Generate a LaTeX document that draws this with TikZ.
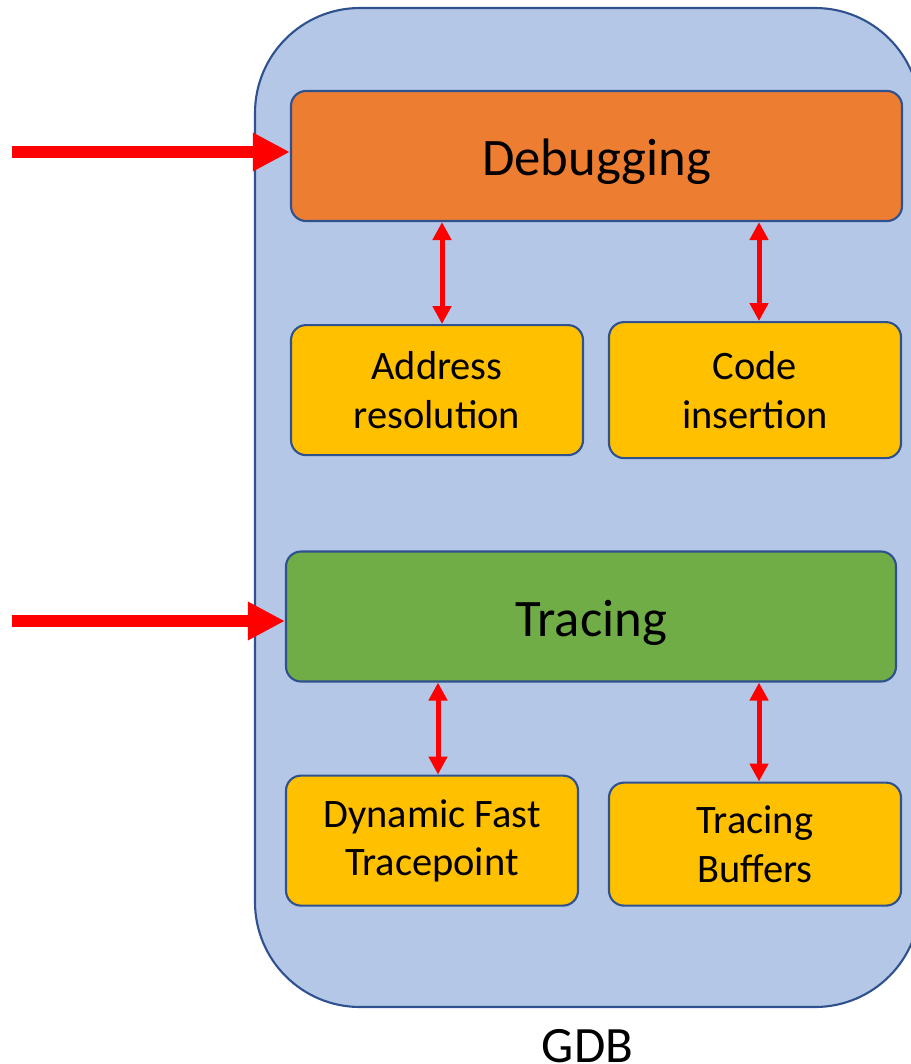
\documentclass[tikz,border=0pt]{standalone}
\usepackage{fontspec}
\setmainfont{Carlito}
\usepackage{tikz}
\usetikzlibrary{arrows.meta,positioning}
\definecolor{gdbblue}{HTML}{B4C7E7}
\definecolor{edgeblue}{HTML}{2F528F}
\definecolor{debugorange}{HTML}{ED7D31}
\definecolor{partyellow}{HTML}{FFC000}
\definecolor{tracegreen}{HTML}{70AD47}
\definecolor{arrowred}{HTML}{FF0000}

\begin{document}
\begin{tikzpicture}[outer/.style = {rectangle, draw = edgeblue, line width = 1.2pt, fill = gdbblue, rounded corners = 2.1cm, inner sep = 0},
						block/.style = {rectangle, draw = edgeblue, line width = 1.2pt, rounded corners = 0.3cm, inner sep = 0, minimum height = 2.6cm, text height = 0.9cm, text depth = 0.1cm, font = \fontsize{30}{36}\selectfont},
						part/.style = {rectangle, draw = edgeblue, line width = 1.2pt, fill = partyellow, rounded corners = 0.3cm, inner sep = 0, minimum width = 5.84cm, align = center, font = \fontsize{23}{27.6}\selectfont},
						inarrow/.style = {-{Triangle[length = 0.74cm, width = 0.72cm]}, line width = 0.24cm, color = arrowred},
						linkarrow/.style = {{Triangle[length = 0.36cm, width = 0.36cm]}-{Triangle[length = 0.36cm, width = 0.36cm]}, line width = 0.1cm, color = arrowred}]
		\useasboundingbox (0,0) rectangle (18.22,-21.28);
		% GDB container
		\node (gdb) at (11.75,-10.15) [outer, minimum width = 13.3cm, minimum height = 19.98cm] {};
		\node (gdblabel) [below = 0.42cm of gdb, inner sep = 0, font = \fontsize{29}{34}\selectfont] {GDB};
		% Start of Debugging
		\node (debug) at (11.93,-3.12) [block, fill = debugorange, minimum width = 12.22cm] {Debugging};
		\node (addr) [part, minimum height = 2.6cm, below right = 2.04cm and 0cm of debug.south west] {Address\\resolution};
		\node (code) [part, minimum height = 2.72cm, below left = 1.98cm and 0.02cm of debug.south east] {Code\\insertion};
		% Start of Tracing
		\node (trace) at (11.82,-12.33) [block, fill = tracegreen, minimum width = 12.2cm] {Tracing};
		\node (dyn) [part, minimum height = 2.6cm, below right = 1.84cm and 0cm of trace.south west] {Dynamic Fast\\Tracepoint};
		\node (buf) [part, minimum height = 2.46cm, below left = 1.98cm and -0.1cm of trace.south east] {Tracing\\Buffers};
		% Inputs
		\coordinate (debugin) at (0.24,-3.04);
		\coordinate (tracein) at (0.24,-12.42);
		\draw [inarrow] (debugin) -- (debugin -| debug.west);
		\draw [inarrow] (tracein) -- (tracein -| trace.west);
		% Links
		\draw [linkarrow] ([xshift = 0.1cm]addr.north) -- ([xshift = 0.1cm]addr.north |- debug.south);
		\draw [linkarrow] ([xshift = 0.08cm]code.north) -- ([xshift = 0.08cm]code.north |- debug.south);
		\draw [linkarrow] ([xshift = 0.12cm]dyn.north) -- ([xshift = 0.12cm]dyn.north |- trace.south);
		\draw [linkarrow] ([xshift = 0.08cm]buf.north) -- ([xshift = 0.08cm]buf.north |- trace.south);
	\end{tikzpicture}
\end{document}
